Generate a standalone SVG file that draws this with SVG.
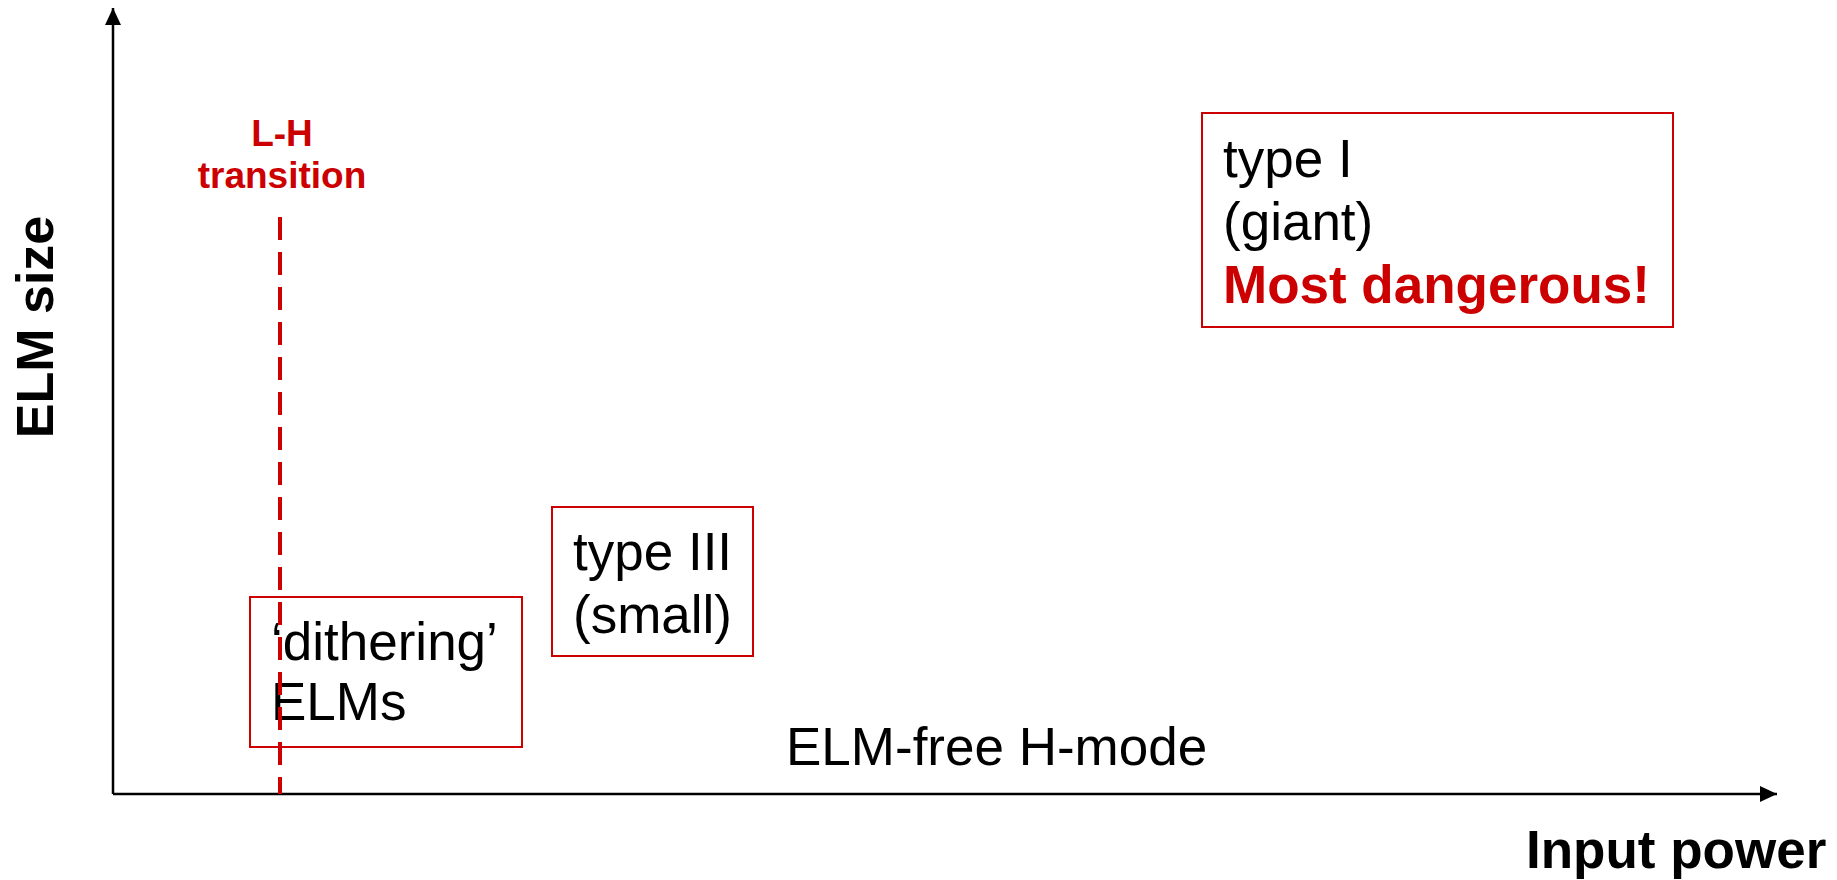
<svg xmlns="http://www.w3.org/2000/svg" width="1837" height="880" viewBox="0 0 1837 880">
  <style>
    .axis { stroke: #000; stroke-width: 2.5; fill: none; }
    .box { fill: #fff; stroke: #cc0000; stroke-width: 2; }
    .lbl { font-family: "Liberation Sans", Arial, sans-serif; font-size: 53px; fill: #000; }
    .bold { font-weight: bold; }
    .red { fill: #cc0000; }
    .small { font-size: 37px; }
    .dash { stroke: #cc0000; stroke-width: 4; stroke-dasharray: 23 12; fill: none; }
  </style>
  <defs>
    <marker id="arrow" viewBox="0 0 17 16" refX="17" refY="8" markerWidth="17" markerHeight="16" markerUnits="userSpaceOnUse" orient="auto">
      <path d="M0,0 L17,8 L0,16 Z" fill="#000"/>
    </marker>
  </defs>
  <rect width="1837" height="880" fill="#fff"/>

  <!-- axes -->
  <g id="connectors">
    <line class="axis" x1="113" y1="794" x2="113" y2="8" marker-end="url(#arrow)"/>
    <line class="axis" x1="113" y1="794" x2="1777" y2="794" marker-end="url(#arrow)"/>
  </g>

  <g id="axis-labels">
    <text class="lbl bold" transform="translate(53,327) rotate(-90)" text-anchor="middle" style="font-size:52px">ELM size</text>
    <text class="lbl bold" x="1526" y="868">Input power</text>
  </g>

  <!-- ELM regimes -->
  <g id="dithering">
    <rect class="box" x="250" y="597" width="272" height="150"/>
    <text class="lbl" x="271" y="660">‘dithering’</text>
    <text class="lbl" x="271" y="720">ELMs</text>
  </g>

  <g id="lh-transition">
    <line class="dash" x1="280" y1="217" x2="280" y2="794"/>
    <text class="lbl bold red small" x="282" y="146" text-anchor="middle">L-H</text>
    <text class="lbl bold red small" x="282" y="188" text-anchor="middle">transition</text>
  </g>

  <g id="type3">
    <rect class="box" x="552" y="507" width="201" height="149"/>
    <text class="lbl" x="573" y="570">type III</text>
    <text class="lbl" x="573" y="633">(small)</text>
  </g>

  <g id="type1">
    <rect class="box" x="1202" y="113" width="471" height="214"/>
    <text class="lbl" x="1223" y="177">type I</text>
    <text class="lbl" x="1223" y="240">(giant)</text>
    <text class="lbl bold red" x="1223" y="303">Most dangerous!</text>
  </g>

  <g id="elm-free">
    <text class="lbl" x="786" y="765">ELM-free H-mode</text>
  </g>
</svg>
